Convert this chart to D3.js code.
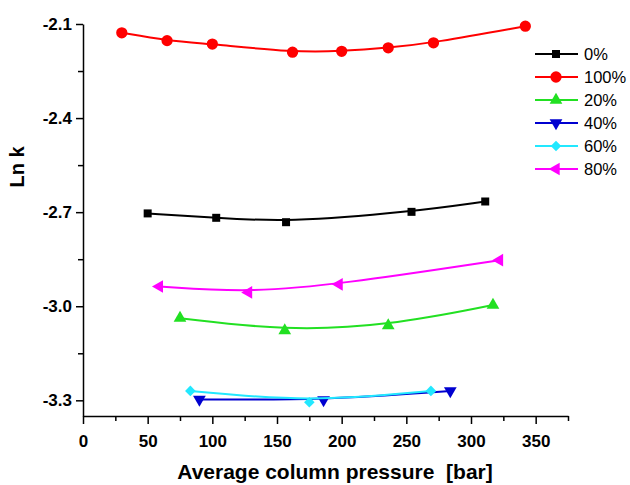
<!DOCTYPE html>
<html>
<head>
<meta charset="utf-8">
<script src="https://cdn.jsdelivr.net/npm/d3@7"></script>
<style>
  body { margin: 0; background: #fff; }
  svg text { font-family: "Liberation Sans", Arial, sans-serif; }
</style>
</head>
<body>
<div id="chart"></div>
<script>
// values
var seriesNames = ["0%", "100%", "20%", "40%", "60%", "80%"];
var colors = ["#000000", "#ff0000", "#22e022", "#0000d0", "#22e8ff", "#ff00ff"];
var symbols = ["square", "circle", "triangle", "triangleDown", "diamond", "triangleLeft"];

var p0 = [50, 103, 157, 254, 311];
var k0 = [-2.704, -2.718, -2.732, -2.699, -2.666];
var p100 = [30, 65, 100, 162, 200, 236, 271, 342];
var k100 = [-2.128, -2.153, -2.164, -2.190, -2.187, -2.176, -2.160, -2.107];
var p20 = [75, 156, 236, 317];
var k20 = [-3.038, -3.078, -3.062, -2.996];
var p40 = [90, 186, 284];
var k40 = [-3.297, -3.299, -3.270];
var p60 = [83, 175, 269];
var k60 = [-3.270, -3.306, -3.270];
var p80 = [59, 128, 198, 322];
var k80 = [-2.937, -2.956, -2.930, -2.853];

var xTicks = [0, 50, 100, 150, 200, 250, 300, 350];
var yTicks = [-2.1, -2.4, -2.7, -3.0, -3.3];

var pressures = [p0, p100, p20, p40, p60, p80];
var lnks = [k0, k100, k20, k40, k60, k80];

var svgWidth = 630, svgHeight = 485;
var svg = d3.select("#chart").append("svg")
    .attr("width", svgWidth)
    .attr("height", svgHeight);

var x = d3.scaleLinear().domain([0, 375]).range([83, 568]);
var y = d3.scaleLinear().domain([-3.35, -2.1]).range([416, 24]);

// minor ticks
svg.append("g")
    .attr("transform", "translate(0,416)")
    .call(d3.axisBottom(x).tickValues(d3.range(25, 376, 50)).tickSize(5).tickFormat(""))
    .call(g => g.select(".domain").remove());
svg.append("g")
    .attr("transform", "translate(83,0)")
    .call(d3.axisLeft(y).tickValues([-2.25, -2.55, -2.85, -3.15]).tickSize(5).tickFormat(""))
    .call(g => g.select(".domain").remove());

var xAxis = svg.append("g")
    .attr("transform", "translate(0,416)")
    .call(d3.axisBottom(x).tickValues(xTicks).tickSize(8).tickSizeOuter(0).tickPadding(11));
var yAxis = svg.append("g")
    .attr("transform", "translate(83,0)")
    .call(d3.axisLeft(y).tickValues(yTicks).tickSize(7).tickSizeOuter(0).tickPadding(4)
        .tickFormat(function(d) { return d.toFixed(1); }));

svg.selectAll(".tick line").attr("stroke-width", 1.5);
svg.selectAll(".domain").attr("stroke-width", 1.5);
[xAxis, yAxis].forEach(function(g) {
    g.selectAll("text")
        .attr("font-size", 17)
        .attr("font-weight", "bold")
        .attr("font-family", "Liberation Sans, Arial, sans-serif")
        .attr("fill", "#000");
});

svg.append("text")
    .attr("x", 335)
    .attr("y", 479)
    .attr("text-anchor", "middle")
    .attr("font-size", 21)
    .attr("font-weight", "bold")
    .attr("xml:space", "preserve")
    .text("Average column pressure  [bar]");

svg.append("text")
    .attr("transform", "translate(24,167) rotate(-90)")
    .attr("text-anchor", "middle")
    .attr("font-size", 20)
    .attr("font-weight", "bold")
    .text("Ln k");

var symbolTypes = {
    square: d3.symbolSquare,
    circle: d3.symbolCircle,
    triangle: d3.symbolTriangle,
    triangleDown: d3.symbolTriangle,
    diamond: d3.symbolSquare,
    triangleLeft: d3.symbolTriangle
};
var symbolSizes = { square: 64, circle: 100, triangle: 70, triangleDown: 70, diamond: 56, triangleLeft: 70 };
var symbolRotate = { triangleDown: 180, triangleLeft: -90, diamond: 45 };

function drawMarker(g, sym, color, cx, cy) {
    g.append("path")
        .attr("d", d3.symbol().type(symbolTypes[sym]).size(symbolSizes[sym])())
        .attr("transform", "translate(" + cx + "," + cy + ") rotate(" + (symbolRotate[sym] || 0) + ")")
        .attr("fill", color);
}

var line = d3.line()
    .x(function(d) { return x(d[0]); })
    .y(function(d) { return y(d[1]); })
    .curve(d3.curveBasis);

seriesNames.forEach(function(name, i) {
    var pts = d3.zip(pressures[i], lnks[i]);
    var g = svg.append("g");
    g.append("path")
        .datum(pts)
        .attr("d", line)
        .attr("fill", "none")
        .attr("stroke", colors[i])
        .attr("stroke-width", 2);
    pts.forEach(function(d) {
        drawMarker(g, symbols[i], colors[i], x(d[0]), y(d[1]));
    });
});

// legend
var legend = svg.append("g");
seriesNames.forEach(function(name, i) {
    var ly = 54 + i * 23;
    legend.append("line")
        .attr("x1", 535).attr("x2", 578)
        .attr("y1", ly).attr("y2", ly)
        .attr("stroke", colors[i])
        .attr("stroke-width", 2);
    drawMarker(legend, symbols[i], colors[i], 556, ly);
    legend.append("text")
        .attr("x", 584)
        .attr("y", ly + 6)
        .attr("font-size", 16.5)
        .text(name);
});
</script>
</body>
</html>
